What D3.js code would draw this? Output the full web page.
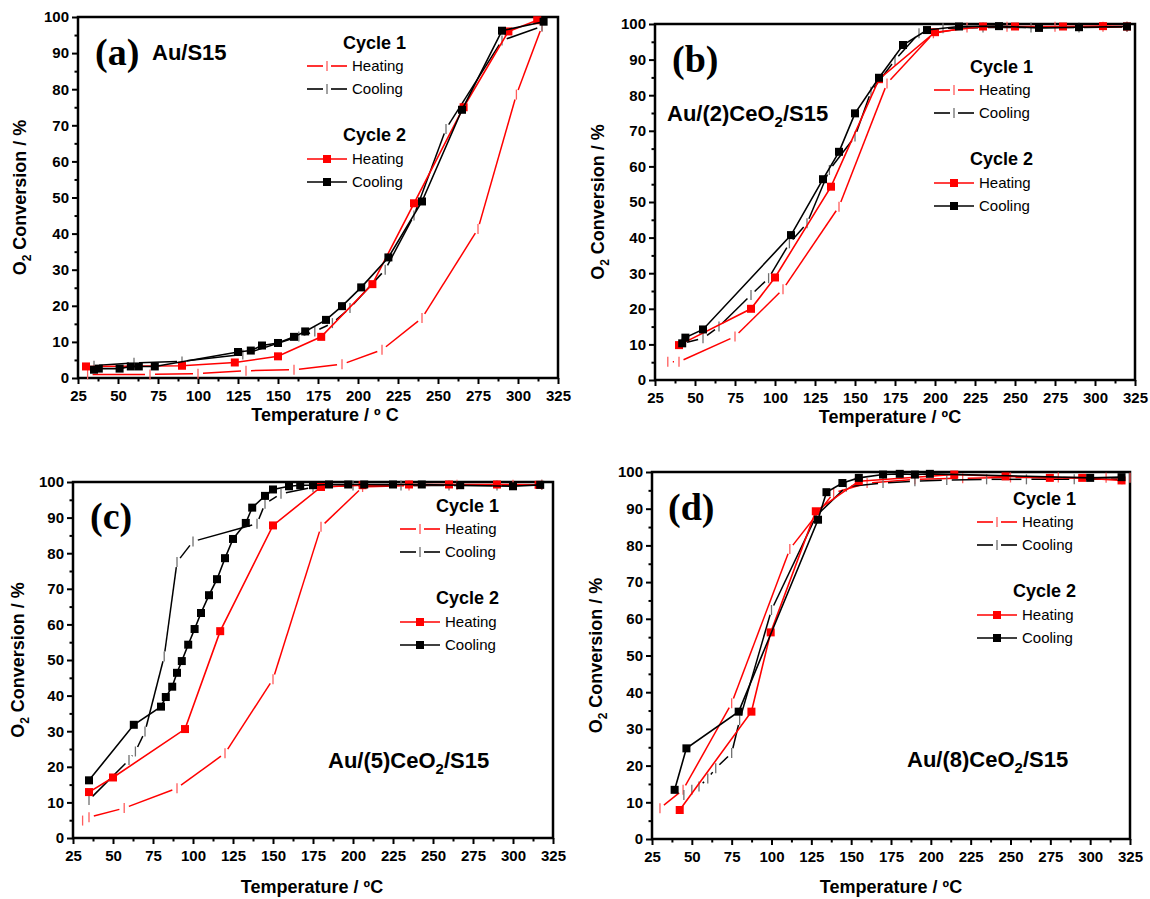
<!DOCTYPE html>
<html>
<head>
<meta charset="utf-8">
<script src="https://cdn.jsdelivr.net/npm/d3@7"></script>
<style>
  body { margin: 0; background: #fff; }
  svg { display: block; }
  text { font-family: "Liberation Sans", Arial, sans-serif; }
</style>
</head>
<body>
<svg id="fig" width="1150" height="899"></svg>
<script>
// ---- axis ticks shared by all four panels ----
const tempTicks = [25, 50, 75, 100, 125, 150, 175, 200, 225, 250, 275, 300, 325];
const tempMinor = [37.5, 62.5, 87.5, 112.5, 137.5, 162.5, 187.5, 212.5, 237.5, 262.5, 287.5, 312.5];
const convTicks = [0, 10, 20, 30, 40, 50, 60, 70, 80, 90, 100];
const convMinor = [5, 15, 25, 35, 45, 55, 65, 75, 85, 95];

// ---- (a) Au/S15 : [temperature °C, O2 conversion %] ----
const aCycle1Heating = [[31,1.0],[70,1.0],[100,1.2],[130,2.0],[160,2.3],[190,3.8],[215,7.8],[240,16.6],[275,41.3],[299,78.5],[315,97.4]];
const aCycle1Cooling = [[315,97.4],[290,93.5],[255,69],[235,45],[217,30],[195,19.4],[184,15.2],[173,12.9],[163,11.5],[128,6.5],[90,4.6],[60,4.2],[35,3.4]];
const aCycle2Heating = [[30,3.2],[90,3.4],[123,4.3],[150,6.0],[177,11.4],[209,26.0],[235,48.4],[266,75.0],[294,96.0],[312,99.1]];
const aCycle2Cooling = [[316,98.7],[290,96.2],[265,74.3],[240,48.9],[219,33.4],[202,25.1],[190,19.9],[180,16.1],[167,12.9],[160,11.4],[150,9.7],[140,9.0],[133,7.6],[125,7.2],[73,3.2],[63,3.2],[58,3.2],[51,2.6],[38,2.6],[35,2.3]];

// ---- (b) Au/(2)CeO2/S15 ----
const bCycle1Heating = [[33,5.1],[40,5.1],[75,12.2],[105,25.5],[140,48.7],[170,83.3],[199,97.4],[220,99],[245,99.2],[275,99.2],[305,99.2],[320,99.2]];
const bCycle1Cooling = [[320,99.2],[290,99],[260,99],[230,99],[205,98.8],[190,97.4],[175,89.9],[160,81],[150,68.4],[134,59],[120,44],[109,38.4],[96,28.6],[85,23.9],[65,15],[55,11.7],[42,10.3]];
const bCycle2Heating = [[40,9.8],[85,20],[100,28.8],[135,54.3],[165,84.5],[200,97.7],[230,99.3],[250,99.3],[280,99.3],[305,99.4],[320,99.3]];
const bCycle2Cooling = [[320,99.3],[290,99.1],[265,98.9],[240,99.4],[215,99.3],[195,98.3],[180,94.1],[165,84.9],[150,74.9],[140,64.1],[130,56.4],[110,40.7],[55,14.2],[44,11.9],[42,10.3]];

// ---- (c) Au/(5)CeO2/S15 ----
const cCycle1Heating = [[31,4.9],[35,5.8],[57,8.4],[90,14],[120,23.8],[150,44.6],[180,87.4],[206,98.6],[235,99],[265,99.2],[300,99.2],[318,99.2]];
const cCycle1Cooling = [[318,99.2],[290,99],[260,99],[230,99],[200,99],[175,98.5],[155,96.7],[145,93.9],[140,88.3],[100,83.3],[90,77.5],[82,51],[70,29.9],[64,24.3],[60,21.9],[35,10.7]];
const cCycle2Heating = [[35,12.9],[50,17],[95,30.6],[117,58.1],[150,87.8],[180,98.6],[206,99.1],[235,99.3],[260,99.3],[290,99.3],[316,99.2]];
const cCycle2Cooling = [[317,99.2],[300,98.8],[267,99.1],[243,99.3],[225,99.3],[207,99.3],[197,99.3],[185,99.3],[175,99.1],[167,99.1],[160,98.8],[150,97.9],[145,96.1],[137,92.8],[133,88.5],[125,84],[120,78.6],[115,72.7],[110,68.2],[105,63.2],[101,58.7],[97,54.3],[93,49.7],[90,46.4],[87,42.5],[83,39.6],[80,36.9],[63,31.8],[35,16.2]];

// ---- (d) Au/(8)CeO2/S15 ----
const dCycle1Heating = [[30,8.4],[44.5,13.4],[75,37],[111.5,79],[139,94.3],[160,97],[190,98],[220,98.3],[250,98.5],[280,98.5],[310,98.4],[325,98.4]];
const dCycle1Cooling = [[320,98],[290,98],[260,98],[235,98],[210,97.8],[190,97.5],[170,97],[147,96],[128,88],[100,62.4],[80,32.4],[75,23.4],[65,19.3],[60,16.5],[54.5,14.3],[50,13.4],[45,12]];
const dCycle2Heating = [[42.4,7.9],[87.4,34.7],[99.5,56.3],[127.8,89.3],[154.8,97.5],[214.7,99.3],[246.9,98.8],[274.7,98.4],[295,98.4],[319.7,97.7]];
const dCycle2Cooling = [[319.7,98.6],[300,98.4],[199.4,99.5],[190,99.3],[180.5,99.5],[170,99.3],[154.8,98.4],[144.5,97],[134.5,94.5],[129.2,87],[79.4,34.7],[46.6,24.7],[39.2,13.4]];

// ---- panel layout ----
const RED = "#ff0000", BLACK = "#000000";
const panels = [
  { tag: "(a)", sample: ["Au/S15", ""], box: {l: 78, r: 558, t: 17, b: 378},
    tagPos: [95, 65], samplePos: [152, 60], legendPos: [343, 43],
    xTitle: "Temperature / º C", xTitlePos: [325, 421], yTitleX: 20,
    series: [aCycle1Heating, aCycle1Cooling, aCycle2Heating, aCycle2Cooling] },
  { tag: "(b)", sample: ["Au/(2)CeO", "/S15"], box: {l: 655, r: 1135, t: 24, b: 380},
    tagPos: [672, 72], samplePos: [667, 121], legendPos: [970, 67],
    xTitle: "Temperature / ºC", xTitlePos: [890, 423], yTitleX: 598,
    series: [bCycle1Heating, bCycle1Cooling, bCycle2Heating, bCycle2Cooling] },
  { tag: "(c)", sample: ["Au/(5)CeO", "/S15"], box: {l: 73, r: 553, t: 482, b: 838},
    tagPos: [90, 529], samplePos: [328, 768], legendPos: [436, 506],
    xTitle: "Temperature / ºC", xTitlePos: [312, 893], yTitleX: 18,
    series: [cCycle1Heating, cCycle1Cooling, cCycle2Heating, cCycle2Cooling] },
  { tag: "(d)", sample: ["Au/(8)CeO", "/S15"], box: {l: 652, r: 1130, t: 472, b: 839},
    tagPos: [668, 520], samplePos: [907, 767], legendPos: [1013, 499],
    xTitle: "Temperature / ºC", xTitlePos: [891, 893], yTitleX: 596,
    series: [dCycle1Heating, dCycle1Cooling, dCycle2Heating, dCycle2Cooling] }
];

// cycle 1: thin line broken around "|" markers; cycle 2: solid line with squares
const styles = [
  { color: RED,   tickColor: "#ff5c5c", kind: "tick" },
  { color: BLACK, tickColor: "#707070", kind: "tick" },
  { color: RED,   kind: "square" },
  { color: BLACK, kind: "square" }
];

const svg = d3.select("#fig");
const GAP = 5, TICK_H = 10, SQ = 8;

function gappedSegments(pts, gap) {
  const segs = [];
  for (let i = 0; i < pts.length - 1; i++) {
    const [x1, y1] = pts[i], [x2, y2] = pts[i + 1];
    const len = Math.hypot(x2 - x1, y2 - y1);
    if (len <= 2 * gap + 0.5) continue;
    const ux = (x2 - x1) / len, uy = (y2 - y1) / len;
    segs.push([x1 + ux * gap, y1 + uy * gap, x2 - ux * gap, y2 - uy * gap]);
  }
  return segs;
}

function drawSeries(g, data, st, x, y) {
  const pts = data.map(d => [x(d[0]), y(d[1])]);
  if (st.kind === "tick") {
    g.append("g").selectAll("line").data(gappedSegments(pts, GAP)).join("line")
      .attr("x1", s => s[0]).attr("y1", s => s[1]).attr("x2", s => s[2]).attr("y2", s => s[3])
      .attr("stroke", st.color).attr("stroke-width", 1.5);
    g.append("g").selectAll("line").data(pts).join("line")
      .attr("x1", p => p[0]).attr("x2", p => p[0])
      .attr("y1", p => p[1] - TICK_H / 2).attr("y2", p => p[1] + TICK_H / 2)
      .attr("stroke", st.tickColor).attr("stroke-width", 1.3);
  } else {
    const line = d3.line().x(d => x(d[0])).y(d => y(d[1]));
    g.append("path").datum(data).attr("d", line)
      .attr("fill", "none").attr("stroke", st.color).attr("stroke-width", 1.6);
    g.append("g").selectAll("rect").data(data).join("rect")
      .attr("x", d => x(d[0]) - SQ / 2).attr("y", d => y(d[1]) - SQ / 2)
      .attr("width", SQ).attr("height", SQ).attr("fill", st.color);
  }
}

function legendSample(g, x0, yc, st) {
  const len = 40, mid = x0 + 20;
  if (st.kind === "tick") {
    g.append("line").attr("x1", x0).attr("x2", mid - 4).attr("y1", yc).attr("y2", yc)
      .attr("stroke", st.color).attr("stroke-width", 1.6);
    g.append("line").attr("x1", mid + 4).attr("x2", x0 + len).attr("y1", yc).attr("y2", yc)
      .attr("stroke", st.color).attr("stroke-width", 1.6);
    g.append("line").attr("x1", mid).attr("x2", mid).attr("y1", yc - 5).attr("y2", yc + 5)
      .attr("stroke", st.tickColor).attr("stroke-width", 1.3);
  } else {
    g.append("line").attr("x1", x0).attr("x2", x0 + len).attr("y1", yc).attr("y2", yc)
      .attr("stroke", st.color).attr("stroke-width", 1.6);
    g.append("rect").attr("x", mid - SQ / 2).attr("y", yc - SQ / 2)
      .attr("width", SQ).attr("height", SQ).attr("fill", st.color);
  }
}

panels.forEach(p => {
  const { l, r, t, b } = p.box;
  const x = d3.scaleLinear().domain([25, 325]).range([l, r]);
  const y = d3.scaleLinear().domain([0, 100]).range([b, t]);
  const g = svg.append("g");

  // axes: major ticks with labels, minor ticks without
  g.append("g").attr("transform", `translate(0,${b})`)
    .call(d3.axisBottom(x).tickValues(tempTicks).tickSize(6).tickPadding(6).tickFormat(d3.format("d")));
  g.append("g").attr("transform", `translate(0,${b})`)
    .call(d3.axisBottom(x).tickValues(tempMinor).tickSize(3.5).tickFormat(""));
  g.append("g").attr("transform", `translate(${l},0)`)
    .call(d3.axisLeft(y).tickValues(convTicks).tickSize(6).tickPadding(3).tickFormat(d3.format("d")));
  g.append("g").attr("transform", `translate(${l},0)`)
    .call(d3.axisLeft(y).tickValues(convMinor).tickSize(3.5).tickFormat(""));
  g.selectAll(".domain").remove();
  g.selectAll(".tick line").attr("stroke", "#000").attr("stroke-width", 2);
  g.selectAll(".tick text").attr("fill", "#000")
    .style("font-family", '"Liberation Sans", Arial, sans-serif')
    .style("font-size", "15px").style("font-weight", "bold");

  // frame
  g.append("rect").attr("x", l).attr("y", t).attr("width", r - l).attr("height", b - t)
    .attr("fill", "none").attr("stroke", "#000").attr("stroke-width", 2.5);

  // data
  p.series.forEach((data, i) => drawSeries(g, data, styles[i], x, y));

  // axis titles
  g.append("text").attr("x", p.xTitlePos[0]).attr("y", p.xTitlePos[1])
    .attr("text-anchor", "middle").style("font-size", "18px").style("font-weight", "bold")
    .text(p.xTitle);
  const yt = g.append("text")
    .attr("transform", `translate(${p.yTitleX},${(t + b) / 2}) rotate(-90)`)
    .attr("text-anchor", "middle").attr("dy", "0.35em")
    .style("font-size", "18px").style("font-weight", "bold");
  yt.append("tspan").text("O");
  yt.append("tspan").attr("dy", 5).style("font-size", "12px").text("2");
  yt.append("tspan").attr("dy", -5).text(" Conversion / %");

  // panel tag and sample name
  g.append("text").attr("x", p.tagPos[0]).attr("y", p.tagPos[1])
    .style("font-family", '"Liberation Serif", "Times New Roman", serif')
    .style("font-size", "38px").style("font-weight", "bold").text(p.tag);
  const sn = g.append("text").attr("x", p.samplePos[0]).attr("y", p.samplePos[1])
    .style("font-size", "22px").style("font-weight", "bold");
  sn.append("tspan").text(p.sample[0]);
  if (p.sample[1]) {
    sn.append("tspan").attr("dy", 6).style("font-size", "15px").text("2");
    sn.append("tspan").attr("dy", -6).text(p.sample[1]);
  }

  // legend
  const [lx, ly] = p.legendPos;
  const rows = [
    { y: 0, title: "Cycle 1" }, { y: 23, label: "Heating", s: 0 }, { y: 46, label: "Cooling", s: 1 },
    { y: 92, title: "Cycle 2" }, { y: 116, label: "Heating", s: 2 }, { y: 139, label: "Cooling", s: 3 }
  ];
  const lg = g.append("g");
  rows.forEach(row => {
    if (row.title) {
      lg.append("text").attr("x", lx).attr("y", ly + row.y).attr("dy", "0.35em")
        .style("font-size", "18px").style("font-weight", "bold").text(row.title);
    } else {
      legendSample(lg, lx - 36, ly + row.y, styles[row.s]);
      lg.append("text").attr("x", lx + 9).attr("y", ly + row.y).attr("dy", "0.35em")
        .style("font-size", "15px").text(row.label);
    }
  });
});
</script>
</body>
</html>
